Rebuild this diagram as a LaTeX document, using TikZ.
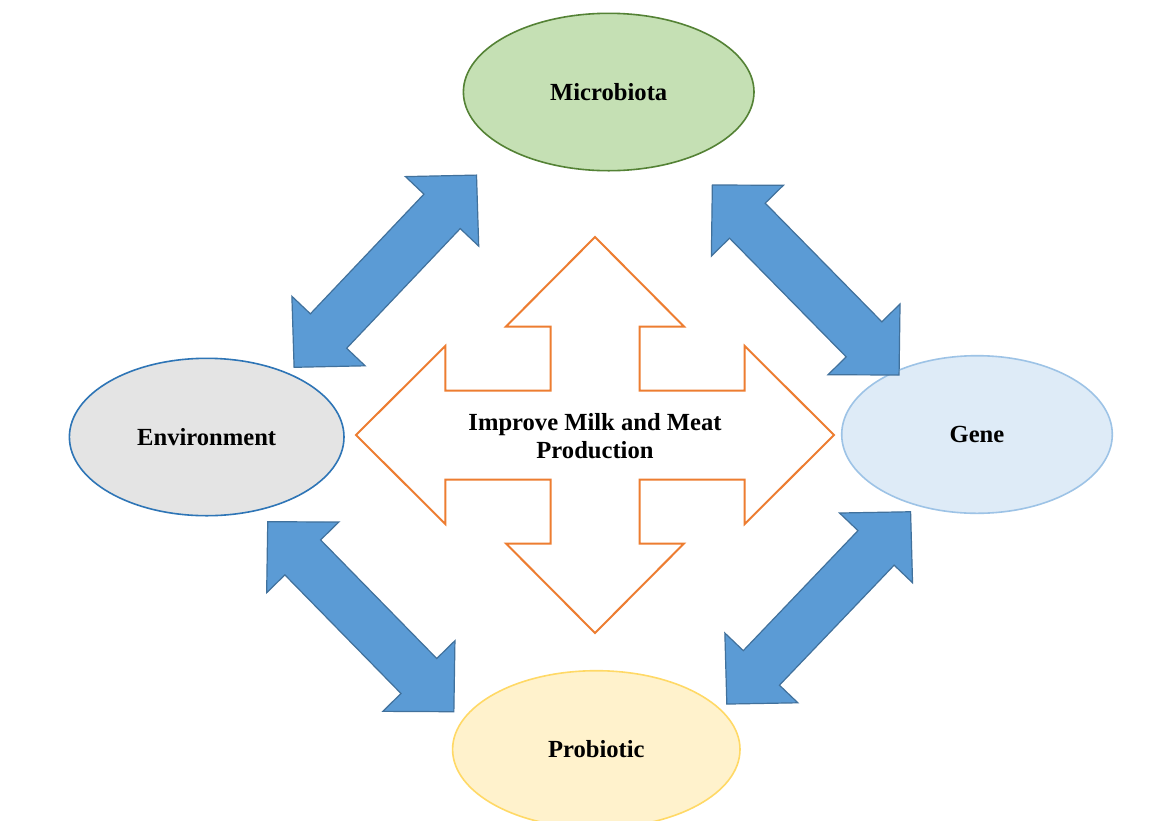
\documentclass[tikz,border=0pt]{standalone}
\usepackage{fontspec}
\setmainfont{Liberation Serif}
\usetikzlibrary{shapes.geometric}
\definecolor{mgreenfill}{HTML}{C5E0B4}
\definecolor{mgreenline}{HTML}{548235}
\definecolor{envfill}{HTML}{E4E4E4}
\definecolor{envline}{HTML}{2E75B6}
\definecolor{genefill}{HTML}{DEEBF7}
\definecolor{geneline}{HTML}{9DC3E6}
\definecolor{probfill}{HTML}{FFF2CC}
\definecolor{probline}{HTML}{FFD966}
\definecolor{bluefill}{HTML}{5B9BD5}
\definecolor{blueline}{HTML}{41719C}
\definecolor{orangeline}{HTML}{ED7D31}
\newcommand{\blockdbl}[4]{%
  \begin{scope}[shift={(#1,#2)},rotate=#3]
    \pgfmathsetmacro{\ha}{#4}
    \pgfmathsetmacro{\hb}{#4-50}
    \draw[bluearrow] (-\ha,0) -- (-\hb,50.5) -- (-\hb,25) -- (\hb,25) -- (\hb,50.5)
      -- (\ha,0) -- (\hb,-50.5) -- (\hb,-25) -- (-\hb,-25) -- (-\hb,-50.5) -- cycle;
  \end{scope}}
\tikzset{
  oval/.style={ellipse, inner sep=0pt, line width=1.6pt,
    font=\fontsize{24.6}{28}\selectfont\bfseries, text=black},
  bluearrow/.style={fill=bluefill, draw=blueline, line width=1.2pt, line join=miter},
  centerarrow/.style={fill=white, draw=orangeline, line width=2pt, line join=miter},
  centertext/.style={align=center, font=\fontsize{24.6}{28}\selectfont\bfseries, text=black}
}
\begin{document}
\begin{tikzpicture}[x=1pt,y=-1pt]
\useasboundingbox (0,0) rectangle (1165,820);
\fill[white] (0,0) rectangle (1165,820);
% ellipses
\node[oval, fill=mgreenfill, draw=mgreenline, minimum width=290.6pt, minimum height=157.4pt] (micro) at (608.7,92) {Microbiota};
\node[oval, fill=envfill, draw=envline, minimum width=274.6pt, minimum height=157.4pt] (env) at (206.7,437) {Environment};
\node[oval, fill=genefill, draw=geneline, minimum width=270.6pt, minimum height=157.6pt] (gene) at (977,434.5) {Gene};
\node[oval, fill=probfill, draw=probline, minimum width=287.4pt, minimum height=157.4pt] (prob) at (596.3,749.4) {Probiotic};
% blue double arrows
\blockdbl{385.3}{271.2}{46.5}{132.5}
\blockdbl{805.7}{280}{-45.5}{133.2}
\blockdbl{360.8}{616.7}{-45.6}{133}
\blockdbl{818.7}{607.9}{46.3}{133}
% central four-way arrow
\draw[centerarrow] (595,237) -- (684,326.5) -- (639.5,326.5) -- (639.5,390.5)
  -- (744.7,390.5) -- (744.7,346) -- (834,435) -- (744.7,524) -- (744.7,479.5)
  -- (639.5,479.5) -- (639.5,543.5) -- (684,543.5) -- (595,633) -- (506,543.5)
  -- (550.5,543.5) -- (550.5,479.5) -- (445.3,479.5) -- (445.3,524) -- (356,435)
  -- (445.3,346) -- (445.3,390.5) -- (550.5,390.5) -- (550.5,326.5) -- (506,326.5) -- cycle;
\node[centertext] (goal) at (595,436) {Improve Milk and Meat\\Production};
\end{tikzpicture}
\end{document}
